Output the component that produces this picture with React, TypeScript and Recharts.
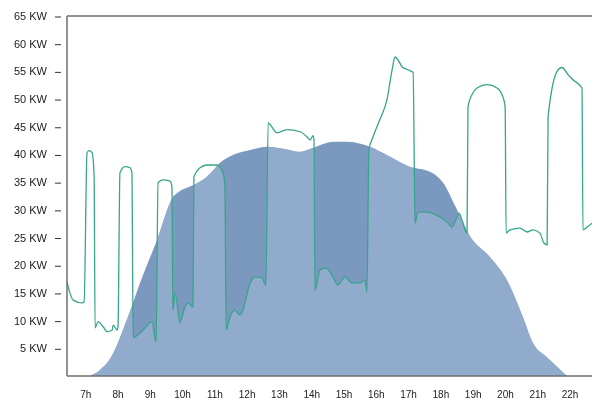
import { ComposedChart, Area, Line, XAxis, YAxis, ReferenceLine, CartesianGrid } from 'recharts';

// axis ticks
const hourTicks = [7, 8, 9, 10, 11, 12, 13, 14, 15, 16, 17, 18, 19, 20, 21, 22];
const kwTicks = [5, 10, 15, 20, 25, 30, 35, 40, 45, 50, 55, 60, 65];

// solar production (kW) by hour of day
const prodHours = [
  7.13, 7.44, 7.75, 8.28, 8.68, 9.21, 9.7, 9.92, 10.23, 10.76, 11.16, 11.56, 12.09, 12.62, 13.17, 13.64,
  14.04, 14.66, 15.09, 15.81, 16.33, 17.04, 17.66, 18.07, 18.5, 18.9, 19.52, 20.05, 20.54, 20.85, 21.29, 21.91,
];
const prodKw = [
  0, 1.1, 3.1, 10.3, 16.8, 24.6, 32.3, 33.4, 34.2, 36.0, 38.5, 39.9, 40.8, 41.4, 41.0, 40.5,
  41.2, 42.3, 42.3, 41.4, 39.9, 37.8, 36.9, 34.9, 30.0, 25.3, 21.5, 17.3, 10.7, 6.0, 3.4, 0,
];

// consumption (kW) by hour of day
const consHours = [
  6.42, 6.51, 6.61, 6.89, 6.95, 7.04, 7.1, 7.2, 7.26, 7.29, 7.38, 7.54, 7.66, 7.82, 7.85, 7.97, 8.0,
  8.06, 8.22, 8.37, 8.43, 8.47, 8.78, 9.05, 9.18, 9.24, 9.39, 9.61, 9.67, 9.7, 9.77, 9.92, 10.04, 10.17,
  10.32, 10.35, 10.54, 10.76, 11.07, 11.25, 11.31, 11.35, 11.47, 11.62, 11.78, 11.87, 12.09, 12.24,
  12.46, 12.58, 12.65, 12.71, 12.93, 13.23, 13.64, 13.85, 13.95, 14.04, 14.07, 14.1, 14.26, 14.44,
  14.66, 14.81, 15.03, 15.25, 15.5, 15.65, 15.71, 15.77, 15.9, 16.11, 16.33, 16.49, 16.58, 16.67,
  16.8, 16.98, 17.14, 17.2, 17.29, 17.57, 17.97, 18.22, 18.34, 18.5, 18.56, 18.65, 18.81, 18.84,
  18.96, 19.12, 19.43, 19.74, 19.92, 19.99, 20.02, 20.14, 20.45, 20.67, 20.85, 21.07, 21.19, 21.29,
  21.32, 21.63, 21.75, 21.94, 22.09, 22.37, 22.4, 22.53, 22.68,
];
const consKw = [
  17.0, 15.0, 13.7, 13.2, 13.4, 40.3, 40.7, 40.3, 36.0, 8.7, 9.8, 8.9, 8.0, 8.3, 9.2, 8.3, 8.9,
  36.7, 37.8, 37.6, 36.7, 7.0, 8.3, 9.8, 6.1, 34.9, 35.4, 35.2, 34.2, 11.9, 15.0, 9.6, 11.9, 13.2,
  12.5, 36.0, 37.6, 38.1, 38.1, 36.7, 34.5, 8.3, 10.7, 11.9, 11.0, 11.9, 16.8, 17.9,
  17.7, 16.4, 45.7, 45.4, 43.9, 44.5, 44.1, 43.2, 42.6, 43.4, 42.6, 15.5, 19.2, 19.5,
  17.9, 16.4, 17.9, 16.8, 16.8, 17.3, 15.2, 40.8, 43.2, 46.3, 49.9, 55.3, 57.6, 57.1,
  55.8, 55.3, 54.8, 27.6, 29.6, 29.6, 28.7, 27.6, 26.9, 28.7, 29.4, 28.2, 25.8, 48.6,
  50.8, 52.0, 52.6, 52.0, 50.4, 48.6, 25.8, 26.4, 26.7, 26.0, 26.4, 25.8, 24.0, 23.7,
  46.8, 55.3, 55.7, 54.4, 53.5, 52.0, 26.4, 26.9, 27.6,
];

type Row = { t: number; prod?: number; cons?: number };

const rows: Row[] = [
  ...prodHours.map((t, i) => ({ t, prod: prodKw[i] })),
  ...consHours.map((t, i) => ({ t, cons: consKw[i] })),
].sort((a, b) => a.t - b.t);

const FONT = '"Liberation Sans", Arial, sans-serif';
const DARK = '#7b99bf';
const LIGHT = '#90abcc';

// the consumption fill only lightens what is under it, so the
// part of production above consumption stays dark
const blendCss = `
.cons-fill, .cons-fill path { mix-blend-mode: lighten; }
.recharts-wrapper, .recharts-surface { isolation: auto !important; }
`;

function KwTick(props: any) {
  const { y, payload } = props;
  return (
    <g>
      <text x={47} y={y} dy={4} textAnchor="end" fontSize={11} fill="#222" fontFamily={FONT}>
        {`${payload.value} KW`}
      </text>
      <line x1={55} x2={61} y1={y + 1} y2={y + 1} stroke="#333" strokeWidth={1} />
    </g>
  );
}

function HourTick(props: any) {
  const { x, payload } = props;
  return (
    <text x={x} y={398} textAnchor="middle" fontSize={10} fill="#222" fontFamily={FONT}>
      {`${payload.value}h`}
    </text>
  );
}

export default function App() {
  return (
    <div style={{ position: 'absolute', left: 0, top: 0, width: 592, height: 401, overflow: 'hidden', background: '#fff' }}>
      <style>{blendCss}</style>
      <ComposedChart width={592} height={401} data={rows} margin={{ top: 16, right: 0, left: 0, bottom: 0 }}>
        <CartesianGrid horizontal={false} vertical={false} fill="#fff" />
        <XAxis
          type="number"
          dataKey="t"
          domain={[6.42, 22.68]}
          ticks={hourTicks}
          tick={<HourTick />}
          tickLine={false}
          axisLine={{ stroke: '#6f6f6f', strokeWidth: 1.5 }}
          height={25}
        />
        <YAxis
          type="number"
          domain={[0, 65]}
          ticks={kwTicks}
          tick={<KwTick />}
          tickLine={false}
          axisLine={{ stroke: '#6f6f6f', strokeWidth: 1.5 }}
          width={67}
        />
        <Area
          type="monotone"
          dataKey="prod"
          fill={DARK}
          fillOpacity={1}
          stroke="none"
          connectNulls
          isAnimationActive={false}
          dot={false}
          activeDot={false}
        />
        <Area
          className="cons-fill"
          type="monotone"
          dataKey="cons"
          fill={LIGHT}
          fillOpacity={1}
          stroke="none"
          connectNulls
          isAnimationActive={false}
          dot={false}
          activeDot={false}
        />
        <Line
          type="monotone"
          dataKey="cons"
          stroke="#36a58b"
          strokeWidth={1.3}
          connectNulls
          dot={false}
          activeDot={false}
          isAnimationActive={false}
        />
        <ReferenceLine y={65} stroke="#6f6f6f" strokeWidth={1.5} />
      </ComposedChart>
    </div>
  );
}
